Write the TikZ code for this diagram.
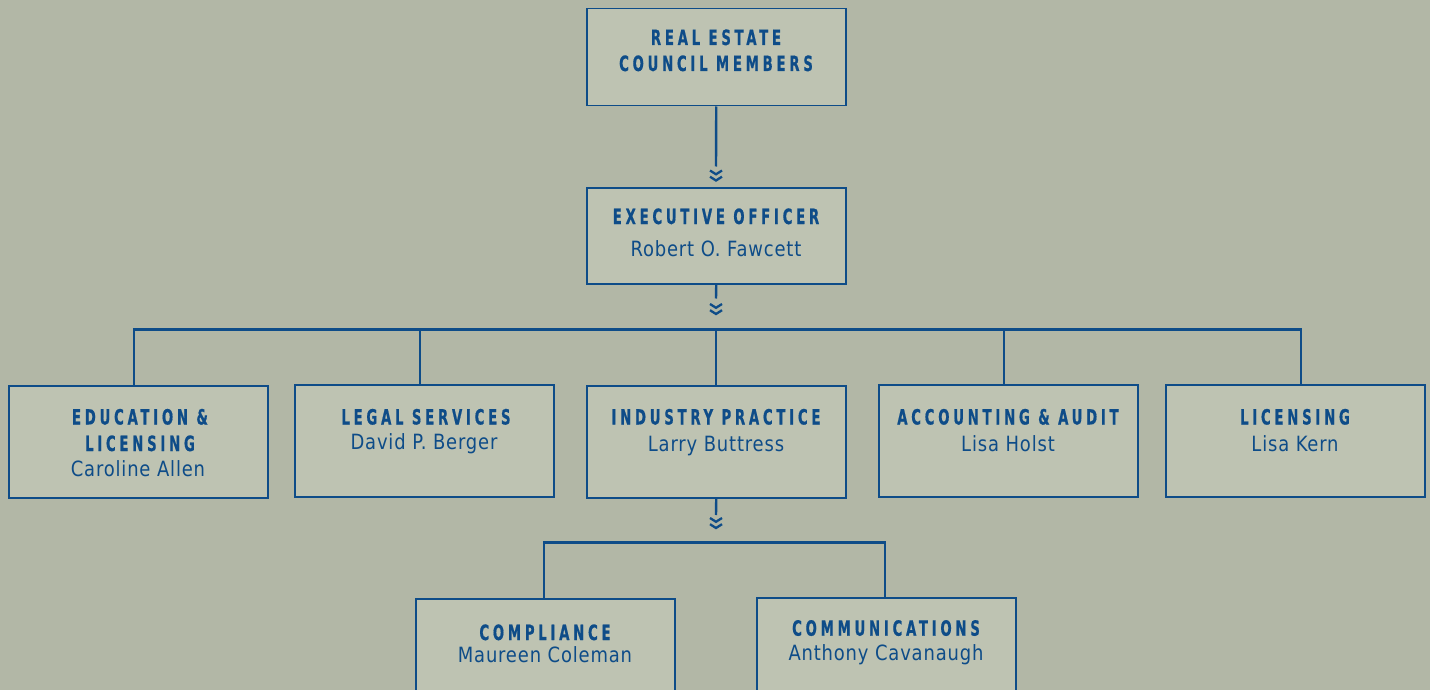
\documentclass[tikz,border=0pt]{standalone}
\usepackage{fontspec}
\newfontfamily\titlefont{DejaVu Sans Condensed Bold}[FakeStretch=0.7,LetterSpace=18,FakeBold=0.6]
\newfontfamily\namefont{DejaVu Sans Condensed}[FakeStretch=0.95,LetterSpace=4]
\definecolor{bg}{HTML}{B2B7A6}
\definecolor{boxfill}{HTML}{BEC3B2}
\definecolor{navy}{HTML}{0E4C88}
\tikzset{
  box/.style={draw=navy, line width=1.5pt, fill=boxfill, minimum width=259pt, minimum height=#1, inner sep=0pt, anchor=north west},
  box/.default=97pt,
  ttl/.style={text=navy, font=\titlefont\fontsize{21}{24}\selectfont, inner sep=0pt, anchor=base},
  nm/.style={text=navy, font=\namefont\fontsize{21}{24}\selectfont, inner sep=0pt, anchor=base},
  conn/.style={draw=navy, line width=2.4pt},
  chev/.pic={
    \draw[navy, line width=2.3pt, line join=miter] (-6,0) -- (0,3.8) -- (6,0);
    \draw[navy, line width=2.3pt, line join=miter] (-6,6.2) -- (0,10) -- (6,6.2);
  }
}
\begin{document}
\begin{tikzpicture}[x=1pt,y=-1pt]
\useasboundingbox (0,0) rectangle (1430,690);
\clip (0,0) rectangle (1430,690);
\fill[bg] (0,0) rectangle (1430,690);

% boxes
\node[box] (top) at (586,8) {};
\node[box=96pt] (exec) at (586,187) {};
\node[box=112pt] (edu) at (8,385) {};
\node[box=112pt] (legal) at (294,384) {};
\node[box=112pt] (ind) at (586,385) {};
\node[box=112pt] (acct) at (878,384) {};
\node[box=112pt] (lic) at (1165,384) {};
\node[box=120pt] (comp) at (415,598) {};
\node[box=120pt] (comm) at (756,597) {};

% texts
\node[ttl] (t1) at (716,45) {REAL ESTATE};
\node[ttl] (t2) at (716,71) {COUNCIL MEMBERS};
\node[ttl] (t3) at (716,224) {EXECUTIVE OFFICER};
\node[nm]  (n3) at (716,256) {Robert O. Fawcett};
\node[ttl] (t4) at (140,424.5) {EDUCATION \&};
\node[ttl] (t4b) at (140,451) {LICENSING};
\node[nm]  (n4) at (138,476) {Caroline Allen};
\node[ttl] (t5) at (426,424.5) {LEGAL SERVICES};
\node[nm]  (n5) at (424,449.5) {David P. Berger};
\node[ttl] (t6) at (716,424.5) {INDUSTRY PRACTICE};
\node[nm]  (n6) at (716,451.5) {Larry Buttress};
\node[ttl] (t7) at (1008,424.5) {ACCOUNTING \& AUDIT};
\node[nm]  (n7) at (1008,451.5) {Lisa Holst};
\node[ttl] (t8) at (1295,424.5) {LICENSING};
\node[nm]  (n8) at (1295,451.5) {Lisa Kern};
\node[ttl] (t9) at (545,640) {COMPLIANCE};
\node[nm]  (n9) at (545,662.7) {Maureen Coleman};
\node[ttl] (t10) at (886,635.7) {COMMUNICATIONS};
\node[nm]  (n10) at (886,660) {Anthony Cavanaugh};

% connectors with chevrons
\coordinate (c1) at (716,166.5);
\coordinate (c2) at (716,298.5);
\coordinate (c3) at (716,515);
\draw[conn] (top.south) -- (c1);
\pic at ([yshift=-4pt]c1) {chev};
\draw[conn] (exec.south) -- (c2);
\pic at ([yshift=-5.5pt]c2) {chev};
\draw[conn] (ind.south) -- (c3);
\pic at ([yshift=-3pt]c3) {chev};

% main bus
\coordinate (b1) at (134,329.3);
\coordinate (b2) at (420,329.3);
\coordinate (b3) at (716,329.3);
\coordinate (b4) at (1004,329.3);
\coordinate (b5) at (1301,329.3);
\draw[conn] ([xshift=-1.2pt]b1) -- ([xshift=1.2pt]b5);
\draw[conn] (b1) -- (b1 |- edu.north);
\draw[conn] (b2) -- (b2 |- legal.north);
\draw[conn] (b3) -- (b3 |- ind.north);
\draw[conn] (b4) -- (b4 |- acct.north);
\draw[conn] (b5) -- (b5 |- lic.north);

% lower bus
\coordinate (d1) at (544,542.5);
\coordinate (d2) at (885,542.5);
\draw[conn] ([xshift=-1.2pt]d1) -- ([xshift=1.2pt]d2);
\draw[conn] (d1) -- (d1 |- comp.north);
\draw[conn] (d2) -- (d2 |- comm.north);
\end{tikzpicture}
\end{document}
